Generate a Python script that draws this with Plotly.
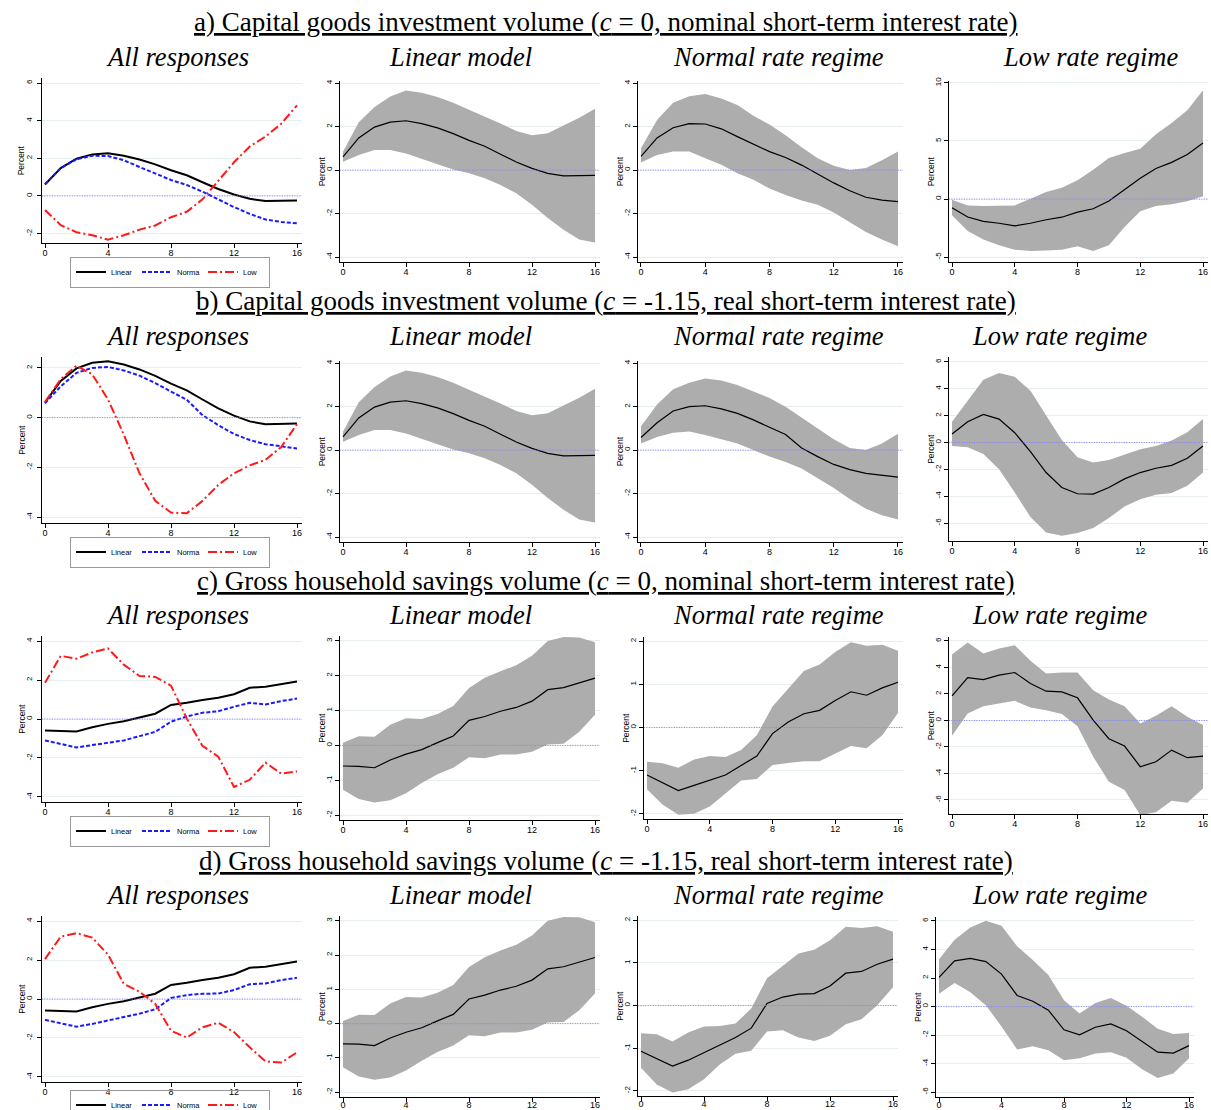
import numpy as np
import plotly.graph_objects as go

W, H = 1211, 1110

horizon = list(range(17))
legend_names = ["Linear", "Norma", "Low"]
col_titles = ["All responses", "Linear model", "Normal rate regime", "Low rate regime"]
row_headers = [
    "a) Capital goods investment volume (<i>c</i> = 0, nominal short-term interest rate)",
    "b) Capital goods investment volume (<i>c</i> = -1.15, real short-term interest rate)",
    "c) Gross household savings volume (<i>c</i> = 0, nominal short-term interest rate)",
    "d) Gross household savings volume (<i>c</i> = -1.15, real short-term interest rate)",
]

# capital goods investment, linear model (same in a and b)
cap_linear = [0.61, 1.48, 1.98, 2.21, 2.27, 2.14, 1.94, 1.68, 1.37, 1.10, 0.73, 0.37, 0.08, -0.15, -0.27, -0.27, -0.24]
cap_linear_hi = [0.84, 2.20, 2.90, 3.39, 3.66, 3.56, 3.36, 3.10, 2.78, 2.47, 2.14, 1.80, 1.60, 1.70, 2.06, 2.41, 2.82]
cap_linear_lo = [0.38, 0.69, 0.92, 0.92, 0.76, 0.53, 0.27, 0.03, -0.15, -0.38, -0.69, -1.07, -1.60, -2.21, -2.75, -3.20, -3.33]

# a) c = 0, nominal rate
cap_nom_normal = [0.63, 1.48, 1.95, 2.14, 2.12, 1.90, 1.54, 1.18, 0.85, 0.58, 0.23, -0.18, -0.59, -0.95, -1.25, -1.38, -1.45]
cap_nom_normal_hi = [1.00, 2.30, 3.10, 3.40, 3.50, 3.30, 3.00, 2.50, 2.10, 1.60, 1.05, 0.55, 0.20, 0.00, 0.10, 0.45, 0.85]
cap_nom_normal_lo = [0.35, 0.70, 0.85, 0.85, 0.55, 0.25, -0.15, -0.45, -0.85, -1.15, -1.40, -1.60, -1.95, -2.40, -2.85, -3.20, -3.50]
cap_nom_low = [-0.75, -1.55, -1.93, -2.09, -2.32, -2.09, -1.79, -1.57, -1.13, -0.84, -0.18, 0.80, 1.79, 2.63, 3.16, 3.84, 4.82]
cap_nom_low_hi = [-0.06, -0.55, -0.60, -0.55, -0.55, 0.03, 0.60, 0.98, 1.61, 2.53, 3.53, 3.97, 4.34, 5.57, 6.55, 7.64, 9.37]
cap_nom_low_lo = [-1.41, -2.76, -3.48, -3.99, -4.37, -4.48, -4.43, -4.37, -4.08, -4.48, -3.99, -2.41, -1.06, -0.60, -0.46, -0.20, 0.23]

# b) c = -1.15, real rate
cap_real_normal = [0.58, 1.26, 1.80, 2.00, 2.04, 1.90, 1.69, 1.39, 1.05, 0.72, 0.10, -0.30, -0.66, -0.90, -1.07, -1.15, -1.24]
cap_real_normal_hi = [1.10, 2.10, 2.80, 3.10, 3.30, 3.20, 3.00, 2.70, 2.40, 2.00, 1.50, 1.00, 0.50, 0.10, 0.00, 0.30, 0.75]
cap_real_normal_lo = [0.30, 0.60, 0.80, 0.85, 0.70, 0.50, 0.30, 0.00, -0.30, -0.55, -0.85, -1.30, -1.75, -2.25, -2.70, -3.00, -3.20]
cap_real_low = [0.63, 1.55, 2.09, 1.74, 0.73, -0.68, -2.24, -3.35, -3.82, -3.85, -3.35, -2.71, -2.24, -1.92, -1.70, -1.18, -0.26]
cap_real_low_hi = [1.55, 3.14, 4.68, 5.18, 4.89, 3.85, 1.97, 0.19, -1.10, -1.50, -1.30, -0.93, -0.51, -0.26, 0.14, 0.76, 1.75]
cap_real_low_lo = [-0.26, -0.36, -0.85, -1.99, -3.72, -5.56, -6.70, -6.94, -6.75, -6.38, -5.63, -4.77, -4.22, -3.90, -3.77, -3.23, -2.24]

# gross household savings, linear model (same in c and d)
sav_linear = [-0.59, -0.60, -0.64, -0.42, -0.25, -0.12, 0.08, 0.27, 0.72, 0.83, 0.98, 1.09, 1.27, 1.60, 1.66, 1.79, 1.93]
sav_linear_hi = [0.08, 0.26, 0.25, 0.59, 0.78, 0.76, 0.90, 1.13, 1.65, 1.94, 2.13, 2.30, 2.57, 3.00, 3.11, 3.10, 2.96]
sav_linear_lo = [-1.27, -1.54, -1.64, -1.57, -1.37, -1.08, -0.83, -0.64, -0.34, -0.37, -0.26, -0.26, -0.18, 0.03, 0.05, 0.39, 0.88]

# c) c = 0, nominal rate
sav_nom_normal = [-1.10, -1.28, -1.46, -1.34, -1.22, -1.10, -0.88, -0.66, -0.14, 0.13, 0.32, 0.40, 0.63, 0.83, 0.75, 0.92, 1.05]
sav_nom_normal_hi = [-0.79, -0.83, -0.93, -0.74, -0.66, -0.68, -0.52, -0.18, 0.49, 0.90, 1.31, 1.46, 1.75, 1.98, 1.90, 1.92, 1.78]
sav_nom_normal_lo = [-1.43, -1.79, -2.02, -2.00, -1.83, -1.52, -1.23, -1.19, -0.87, -0.82, -0.78, -0.78, -0.60, -0.43, -0.48, -0.18, 0.34]
sav_nom_low = [1.86, 3.24, 3.09, 3.42, 3.62, 2.79, 2.21, 2.16, 1.71, 0.03, -1.38, -1.93, -3.49, -3.12, -2.24, -2.81, -2.69]
sav_nom_low_hi = [4.97, 5.88, 5.05, 5.43, 5.68, 4.50, 3.54, 3.62, 3.62, 2.29, 1.58, 1.08, -0.23, 0.35, 1.08, 0.28, -0.35]
sav_nom_low_lo = [-1.16, 0.53, 1.08, 1.28, 1.48, 0.98, 0.78, 0.48, -0.43, -2.74, -4.62, -5.25, -7.14, -6.93, -6.06, -6.21, -5.13]

# d) c = -1.15, real rate
sav_real_normal = [-1.07, -1.25, -1.42, -1.28, -1.10, -0.93, -0.75, -0.53, 0.05, 0.20, 0.27, 0.28, 0.46, 0.76, 0.80, 0.97, 1.09]
sav_real_normal_hi = [-0.65, -0.67, -0.84, -0.63, -0.49, -0.48, -0.42, -0.07, 0.64, 0.92, 1.22, 1.31, 1.53, 1.85, 1.82, 1.86, 1.73]
sav_real_normal_lo = [-1.46, -1.85, -2.04, -1.96, -1.73, -1.38, -1.13, -1.06, -0.61, -0.58, -0.75, -0.83, -0.71, -0.44, -0.32, 0.01, 0.43]
sav_real_low = [2.05, 3.20, 3.38, 3.15, 2.28, 0.78, 0.37, -0.25, -1.63, -1.98, -1.45, -1.22, -1.70, -2.48, -3.20, -3.26, -2.74]
sav_real_low_hi = [3.31, 4.69, 5.54, 6.02, 5.66, 4.23, 3.26, 2.21, 0.44, -0.48, 0.25, 0.60, 0.05, -0.71, -1.56, -1.93, -1.86]
sav_real_low_lo = [0.90, 1.66, 1.01, 0.09, -1.40, -3.01, -2.78, -3.06, -3.77, -3.63, -3.29, -3.20, -3.59, -4.39, -5.01, -4.69, -3.63]

rows = [
    ((cap_linear, cap_linear_lo, cap_linear_hi),
     (cap_nom_normal, cap_nom_normal_lo, cap_nom_normal_hi),
     (cap_nom_low, cap_nom_low_lo, cap_nom_low_hi)),
    ((cap_linear, cap_linear_lo, cap_linear_hi),
     (cap_real_normal, cap_real_normal_lo, cap_real_normal_hi),
     (cap_real_low, cap_real_low_lo, cap_real_low_hi)),
    ((sav_linear, sav_linear_lo, sav_linear_hi),
     (sav_nom_normal, sav_nom_normal_lo, sav_nom_normal_hi),
     (sav_nom_low, sav_nom_low_lo, sav_nom_low_hi)),
    ((sav_linear, sav_linear_lo, sav_linear_hi),
     (sav_real_normal, sav_real_normal_lo, sav_real_normal_hi),
     (sav_real_low, sav_real_low_lo, sav_real_low_hi)),
]

# panel geometry in pixels: x of tick 0, x of tick 16, top, bottom, y range, y tick step
geom = [
    [(45, 297, 78, 243, (-2.5, 6.27), 2), (343, 595, 81, 262, (-4.23, 4.1), 2),
     (641, 898, 81, 262, (-4.23, 4.1), 2), (952, 1203, 81, 262, (-5.43, 10.17), 5)],
    [(45, 297, 357, 523, (-4.24, 2.44), 2), (343, 595, 361, 542, (-4.23, 4.1), 2),
     (641, 898, 361, 542, (-4.23, 4.1), 2), (952, 1203, 357, 541, (-7.34, 6.37), 2)],
    [(45, 297, 636, 802, (-4.26, 4.26), 2), (343, 595, 636, 820, (-2.14, 3.14), 1),
     (647, 898, 637, 819, (-2.12, 2.1), 1), (952, 1203, 637, 814, (-7.06, 6.3), 2)],
    [(45, 297, 916, 1082, (-4.26, 4.26), 2), (343, 595, 916, 1097, (-2.14, 3.14), 1),
     (641, 893, 916, 1096, (-2.12, 2.1), 1), (939, 1189, 917, 1097, (-6.34, 6.28), 2)],
]
xlabel_shift = [-3, -3, -3, -5]
header_y = [22, 301, 581, 861]
sub_y = [57, 336, 615, 895]
sub_x = [[177, 460, 778, 1090], [177, 460, 778, 1059], [177, 460, 778, 1059], [177, 460, 778, 1059]]
legend_mid = [272, 552, 831, 1105]

BAND = "#adadad"
GRID = "#e6eef0"
SANS = "Liberation Sans, Arial, sans-serif"
SERIF = "Liberation Serif, Times New Roman, serif"
styles = [
    dict(color="black", width=2, dash="solid"),
    dict(color="#1a1aff", width=2, dash="4px,2px"),
    dict(color="#ff1a1a", width=2, dash="9px,3px,2px,3px"),
]

fig = go.Figure()
layout = {}
shapes = []
annotations = []

n = 0
for r, (lin, nor, low) in enumerate(rows):
    leg = "legend" if r == 0 else f"legend{r + 1}"
    for c in range(4):
        n += 1
        xa, ya = ("x", "y") if n == 1 else (f"x{n}", f"y{n}")
        p0, p16, top, bottom, yr, step = geom[r][c]
        s = (p16 - p0) / 16
        layout["xaxis" if n == 1 else f"xaxis{n}"] = dict(
            domain=[(p0 - 0.2 * s) / W, (p16 + 0.3 * s) / W], range=[-0.2, 16.3],
            anchor=ya, tickvals=[0, 4, 8, 12, 16], ticks="outside", ticklen=4,
            tickcolor="black", showline=True, linecolor="black", linewidth=1,
            showgrid=False, zeroline=False, ticklabelstandoff=xlabel_shift[r] if c else -3,
            tickfont=dict(family=SANS, size=9, color="black"),
        )
        tv = np.arange(np.ceil(yr[0] / step) * step, yr[1] + 1e-9, step)
        layout["yaxis" if n == 1 else f"yaxis{n}"] = dict(
            domain=[1 - bottom / H, 1 - top / H], range=list(yr), anchor=xa,
            tickvals=list(tv), ticktext=[f"{v:g}" for v in tv], tickangle=-90,
            ticks="outside", ticklen=4, tickcolor="black", showline=True,
            linecolor="black", linewidth=1, showgrid=True, gridcolor=GRID, gridwidth=1,
            zeroline=False, ticklabelstandoff=0 if c else 2,
            tickfont=dict(family=SANS, size=8, color="black"),
        )
        annotations.append(dict(text="Percent", xref=f"{xa} domain", yref=f"{ya} domain",
                                x=0, y=0.5, xshift=-20 if c == 0 else -18, textangle=-90,
                                showarrow=False, xanchor="center", yanchor="middle",
                                font=dict(family=SANS, size=8.5, color="black")))
        shapes.append(dict(type="line", xref=f"{xa} domain", yref=ya, x0=0, x1=1, y0=0, y1=0,
                           line=dict(color="#7f7fff", width=1, dash="1px,1.5px"), layer="above"))
        if c == 0:
            for k, (series, _, _) in enumerate((lin, nor, low)):
                fig.add_trace(go.Scatter(x=horizon, y=series, mode="lines", name=legend_names[k],
                                         line=styles[k], xaxis=xa, yaxis=ya, legend=leg,
                                         showlegend=True))
        else:
            mid, lo, hi = (lin, nor, low)[c - 1]
            fig.add_trace(go.Scatter(x=horizon, y=lo, mode="lines", line=dict(width=0, color=BAND),
                                     xaxis=xa, yaxis=ya, showlegend=False, hoverinfo="skip",
                                     legend=leg))
            fig.add_trace(go.Scatter(x=horizon, y=hi, mode="lines", line=dict(width=0, color=BAND),
                                     fill="tonexty", fillcolor=BAND, xaxis=xa, yaxis=ya,
                                     showlegend=False, hoverinfo="skip", legend=leg))
            fig.add_trace(go.Scatter(x=horizon, y=mid, mode="lines",
                                     line=dict(color="black", width=1.2),
                                     xaxis=xa, yaxis=ya, showlegend=False, legend=leg))
        annotations.append(dict(text=f"<i>{col_titles[c]}</i>", xref="paper", yref="paper",
                                x=sub_x[r][c] / W, y=1 - sub_y[r] / H, showarrow=False,
                                xanchor="center", yanchor="middle",
                                font=dict(family=SERIF, size=26.5, color="black")))
    layout[leg] = dict(orientation="h", x=170 / W, y=1 - legend_mid[r] / H, xanchor="center",
                       yanchor="middle", bordercolor="#999999", borderwidth=1, itemwidth=30,
                       entrywidth=21, traceorder="normal",
                       font=dict(family=SANS, size=7.5, color="black"), bgcolor="rgba(0,0,0,0)")
    annotations.append(dict(text=f"<u>{row_headers[r]}</u>", xref="paper", yref="paper",
                            x=0.5, y=1 - header_y[r] / H, showarrow=False,
                            xanchor="center", yanchor="middle",
                            font=dict(family=SERIF, size=27, color="black")))

fig.update_layout(
    width=W, height=H, margin=dict(l=0, r=0, t=0, b=0, autoexpand=False),
    paper_bgcolor="white", plot_bgcolor="white",
    shapes=shapes, annotations=annotations, **layout,
)

fig.write_html("out.html", config={"displayModeBar": False},
               post_script="document.body.style.margin='0';")
